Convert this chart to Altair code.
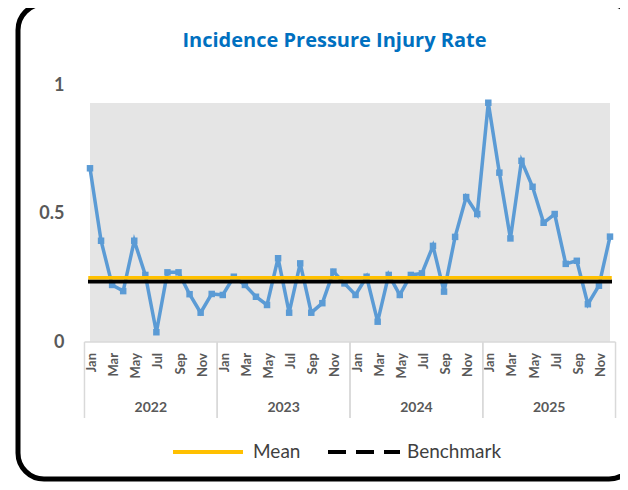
import altair as alt
import pandas as pd

months = ["Jan", "Feb", "Mar", "Apr", "May", "Jun", "Jul", "Aug", "Sep", "Oct", "Nov", "Dec"]
years = ["2022", "2023", "2024", "2025"]
rate_2022 = [0.676, 0.394, 0.222, 0.198, 0.394, 0.261, 0.038, 0.271, 0.271, 0.186, 0.114, 0.187]
rate_2023 = [0.183, 0.254, 0.222, 0.176, 0.144, 0.326, 0.114, 0.306, 0.114, 0.151, 0.274, 0.228]
rate_2024 = [0.183, 0.254, 0.079, 0.261, 0.183, 0.261, 0.267, 0.374, 0.196, 0.409, 0.564, 0.498]
rate_2025 = [0.931, 0.659, 0.403, 0.705, 0.604, 0.464, 0.498, 0.304, 0.316, 0.147, 0.219, 0.410]
mean_rate = 0.25
benchmark_rate = 0.235
y_ticks = [0, 0.5, 1]
legend_labels = ["Mean", "Benchmark"]
title_text = "Incidence Pressure Injury Rate"

rows = []
for yi, (yr, vals) in enumerate(zip(years, [rate_2022, rate_2023, rate_2024, rate_2025])):
    for mi, v in enumerate(vals):
        rows.append({"idx": yi * 12 + mi, "month": months[mi], "year": yr, "rate": v})
df = pd.DataFrame(rows)

FONT = "Lato"
GRAY_TXT = "#595959"
x_scale = alt.Scale(domain=[0, 47], nice=False, zero=False)
y_scale = alt.Scale(domain=[0, 1], nice=False)
one = alt.Data(values=[{}])

border = alt.Chart(one).mark_rect(
    filled=False, stroke="black", strokeWidth=5, cornerRadius=26
).encode(x=alt.value(-72), x2=alt.value(545), y=alt.value(-81), y2=alt.value(394))

title = alt.Chart(alt.Data(values=[{"t": title_text}])).mark_text(
    font="Open Sans", fontSize=20, fontWeight="bold", color="#0070C0",
    align="center", baseline="middle"
).encode(x=alt.value(244.5), y=alt.value(-44), text="t:N")

plot_bg = alt.Chart(one).mark_rect(fill="#E5E5E5").encode(
    x=alt.value(0), x2=alt.value(520), y=alt.value(18), y2=alt.value(257)
)

series = alt.Chart(df).mark_line(
    color="#5B9BD5", strokeWidth=3.5,
    point=alt.OverlayMarkDef(shape="square", size=42, filled=True, color="#5B9BD5", opacity=1),
).encode(
    x=alt.X("idx:Q", scale=x_scale, axis=None),
    y=alt.Y("rate:Q", scale=y_scale, axis=alt.Axis(
        values=y_ticks, format="~g", title=None, domain=False, ticks=False, grid=False,
        labelPadding=26, labelFont=FONT, labelFontSize=18, labelFontWeight="bold",
        labelColor=GRAY_TXT)),
)

ref_df = pd.DataFrame({"label": legend_labels, "value": [mean_rate, benchmark_rate]})
bench = alt.Chart(ref_df).transform_filter("datum.label == 'Benchmark'").mark_rule(
    color="black", strokeWidth=4, strokeCap="square"
).encode(y=alt.Y("value:Q", scale=y_scale), x=alt.value(0), x2=alt.value(520))
mean = alt.Chart(ref_df).transform_filter("datum.label == 'Mean'").mark_rule(
    color="#FFC000", strokeWidth=3.5, strokeCap="square"
).encode(y=alt.Y("value:Q", scale=y_scale), x=alt.value(0), x2=alt.value(520))

month_lbl = alt.Chart(df).transform_filter("datum.idx % 2 == 0").mark_text(
    angle=270, align="right", baseline="middle", font=FONT, fontSize=13,
    fontWeight="bold", color=GRAY_TXT, xOffset=2
).encode(x=alt.X("idx:Q", scale=x_scale), y=alt.value(268), text="month:N")

year_lbl = alt.Chart(df).transform_aggregate(
    mid="mean(idx)", groupby=["year"]
).mark_text(
    font=FONT, fontSize=14, fontWeight="bold", color=GRAY_TXT, baseline="middle"
).encode(x=alt.X("mid:Q", scale=x_scale), y=alt.value(323), text="year:N")

seps = alt.Chart(df).transform_aggregate(
    lo="min(idx)", hi="max(idx)", groupby=["year"]
).transform_calculate(
    left="datum.lo - 0.5", right="datum.hi + 0.5"
).transform_fold(["left", "right"], as_=["side", "pos"]).mark_rule(
    color="#D9D9D9", strokeWidth=1.5
).encode(x=alt.X("pos:Q", scale=x_scale), y=alt.value(257), y2=alt.value(333))

top_line = alt.Chart(df).transform_aggregate(
    lo="min(idx)", hi="max(idx)"
).transform_calculate(
    left="datum.lo - 0.5", right="datum.hi + 0.5"
).mark_rule(color="#D9D9D9", strokeWidth=1.5).encode(
    x=alt.X("left:Q", scale=x_scale), x2="right:Q", y=alt.value(257)
)

leg_mean_line = alt.Chart(one).mark_rule(color="#FFC000", strokeWidth=4).encode(
    x=alt.value(83), x2=alt.value(153), y=alt.value(367)
)
leg_bench_line = alt.Chart(one).mark_rule(
    color="black", strokeWidth=4, strokeDash=[18, 10]
).encode(x=alt.value(238), x2=alt.value(310), y=alt.value(367))
leg_text = alt.Chart(pd.DataFrame({"label": legend_labels, "px": [163, 317]})).mark_text(
    font=FONT, fontSize=19, color="#3F3F3F", align="left", baseline="middle"
).encode(x=alt.X("px:Q", scale=None), y=alt.value(367), text="label:N")

chart = alt.layer(
    border, title, plot_bg, series, bench, mean, month_lbl, year_lbl, seps, top_line,
    leg_mean_line, leg_bench_line, leg_text,
).properties(
    width=520, height=257,
    autosize=alt.AutoSizeParams(type="none"),
    padding={"left": 82, "top": 77, "right": 10, "bottom": 140},
).configure_view(stroke=None)

chart.save("out.html", embed_options={"renderer": "svg", "actions": False})
